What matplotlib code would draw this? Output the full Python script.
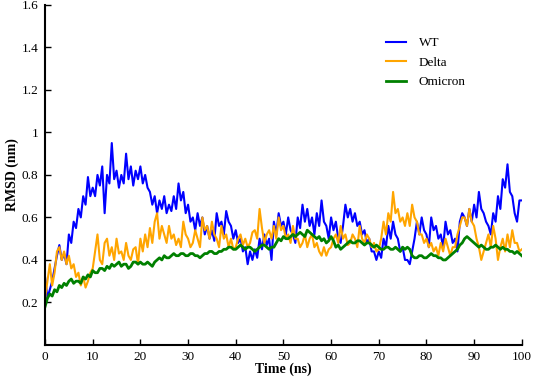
import numpy as np
import matplotlib
matplotlib.use("Agg")
import matplotlib.pyplot as plt

# time axis (ns), 0.5 ns steps
time_ns = np.arange(0, 100.01, 0.5)

wt = [
    0.32, 0.22, 0.26, 0.30, 0.36, 0.42, 0.47, 0.40, 0.43, 0.38,
    0.52, 0.48, 0.58, 0.55, 0.64, 0.60, 0.70, 0.66, 0.79, 0.70,
    0.74, 0.70, 0.80, 0.75, 0.84, 0.62, 0.80, 0.76, 0.95, 0.78,
    0.82, 0.74, 0.80, 0.76, 0.90, 0.78, 0.84, 0.75, 0.82, 0.78,
    0.84, 0.76, 0.80, 0.74, 0.72, 0.66, 0.70, 0.62, 0.68, 0.64,
    0.70, 0.62, 0.66, 0.63, 0.70, 0.64, 0.76, 0.68, 0.72, 0.62,
    0.66, 0.58, 0.60, 0.54, 0.62, 0.56, 0.60, 0.52, 0.56, 0.50,
    0.54, 0.49, 0.62, 0.56, 0.58, 0.52, 0.63, 0.58, 0.56, 0.50,
    0.54, 0.48, 0.50, 0.44, 0.46, 0.38, 0.44, 0.40, 0.45, 0.41,
    0.50, 0.45, 0.52, 0.47, 0.50, 0.40, 0.58, 0.52, 0.62, 0.56,
    0.58, 0.52, 0.60, 0.54, 0.52, 0.48, 0.60, 0.55, 0.66, 0.58,
    0.64, 0.56, 0.60, 0.52, 0.62, 0.56, 0.68, 0.58, 0.56, 0.50,
    0.60, 0.54, 0.58, 0.50, 0.48, 0.56, 0.66, 0.60, 0.64, 0.58,
    0.62, 0.56, 0.58, 0.52, 0.54, 0.48, 0.50, 0.44, 0.44, 0.40,
    0.44, 0.41, 0.50, 0.46, 0.56, 0.50, 0.58, 0.52, 0.50, 0.44,
    0.46, 0.40, 0.40, 0.38, 0.44, 0.50, 0.58, 0.52, 0.60, 0.54,
    0.52, 0.46, 0.60, 0.54, 0.56, 0.50, 0.52, 0.46, 0.58, 0.52,
    0.54, 0.48, 0.50, 0.44, 0.58, 0.62, 0.60, 0.56, 0.64, 0.58,
    0.66, 0.60, 0.72, 0.64, 0.62, 0.58, 0.56, 0.52, 0.62, 0.58,
    0.70, 0.64, 0.78, 0.74, 0.85, 0.72, 0.70, 0.62, 0.58, 0.68,
    0.68,
]

delta = [
    0.22, 0.30, 0.38, 0.28, 0.34, 0.44, 0.46, 0.40, 0.44, 0.38,
    0.42, 0.36, 0.38, 0.32, 0.34, 0.28, 0.32, 0.27, 0.30, 0.34,
    0.36, 0.44, 0.52, 0.40, 0.38, 0.48, 0.50, 0.42, 0.46, 0.40,
    0.50, 0.43, 0.44, 0.40, 0.48, 0.42, 0.40, 0.45, 0.46, 0.38,
    0.50, 0.44, 0.52, 0.46, 0.55, 0.48, 0.58, 0.62, 0.50, 0.56,
    0.52, 0.48, 0.56, 0.50, 0.52, 0.47, 0.50, 0.46, 0.58, 0.52,
    0.50, 0.46, 0.48, 0.54, 0.50, 0.46, 0.60, 0.54, 0.56, 0.50,
    0.58, 0.52, 0.50, 0.46, 0.56, 0.50, 0.52, 0.46, 0.50, 0.45,
    0.46, 0.50, 0.52, 0.47, 0.50, 0.46, 0.48, 0.53, 0.54, 0.50,
    0.64, 0.55, 0.48, 0.52, 0.54, 0.50, 0.56, 0.50, 0.60, 0.54,
    0.56, 0.50, 0.52, 0.48, 0.56, 0.50, 0.50, 0.46, 0.48, 0.52,
    0.46, 0.50, 0.52, 0.46, 0.48, 0.44, 0.42, 0.46, 0.42, 0.45,
    0.46, 0.50, 0.52, 0.48, 0.56, 0.50, 0.52, 0.47, 0.48, 0.52,
    0.50, 0.46, 0.56, 0.50, 0.48, 0.52, 0.50, 0.46, 0.48, 0.44,
    0.45, 0.50, 0.58, 0.52, 0.62, 0.58, 0.72, 0.62, 0.64, 0.58,
    0.60, 0.56, 0.62, 0.56, 0.66, 0.60, 0.58, 0.52, 0.52, 0.48,
    0.50, 0.46, 0.48, 0.44, 0.46, 0.42, 0.48, 0.44, 0.50, 0.46,
    0.42, 0.46, 0.46, 0.52, 0.56, 0.60, 0.60, 0.56, 0.64, 0.58,
    0.56, 0.50, 0.46, 0.40, 0.44, 0.48, 0.52, 0.46, 0.56, 0.50,
    0.40, 0.46, 0.50, 0.44, 0.52, 0.46, 0.54, 0.48, 0.48, 0.44,
    0.45,
]

omicron = [
    0.18, 0.22, 0.24, 0.23, 0.26, 0.25, 0.28, 0.27, 0.29, 0.28,
    0.30, 0.31, 0.29, 0.30, 0.30, 0.29, 0.32, 0.31, 0.33, 0.32,
    0.35, 0.34, 0.34, 0.36, 0.36, 0.35, 0.37, 0.36, 0.38, 0.37,
    0.38, 0.39, 0.37, 0.38, 0.38, 0.36, 0.37, 0.39, 0.39, 0.38,
    0.39, 0.38, 0.38, 0.39, 0.38, 0.37, 0.39, 0.40, 0.41, 0.40,
    0.42, 0.41, 0.41, 0.42, 0.43, 0.42, 0.42, 0.43, 0.43, 0.42,
    0.42, 0.43, 0.43, 0.42, 0.42, 0.41, 0.42, 0.43, 0.43, 0.44,
    0.44, 0.43, 0.43, 0.44, 0.44, 0.45, 0.45, 0.46, 0.46, 0.45,
    0.45, 0.46, 0.47, 0.46, 0.45, 0.46, 0.46, 0.45, 0.44, 0.45,
    0.46, 0.47, 0.47, 0.46, 0.45, 0.46, 0.46, 0.48, 0.50, 0.49,
    0.51, 0.50, 0.50, 0.51, 0.52, 0.51, 0.52, 0.53, 0.52, 0.51,
    0.54, 0.53, 0.52, 0.51, 0.50, 0.51, 0.49, 0.50, 0.48, 0.49,
    0.51, 0.49, 0.46, 0.47, 0.45, 0.46, 0.47, 0.48, 0.49, 0.48,
    0.48, 0.49, 0.49, 0.48, 0.47, 0.48, 0.48, 0.47, 0.46, 0.47,
    0.46, 0.45, 0.45, 0.46, 0.46, 0.45, 0.45, 0.46, 0.45, 0.44,
    0.46, 0.45, 0.46, 0.45, 0.42, 0.41, 0.41, 0.42, 0.42, 0.41,
    0.41, 0.42, 0.43, 0.42, 0.42, 0.41, 0.41, 0.40, 0.40, 0.41,
    0.42, 0.43, 0.44, 0.45, 0.47, 0.48, 0.50, 0.51, 0.50, 0.49,
    0.48, 0.47, 0.46, 0.47, 0.46, 0.45, 0.45, 0.46, 0.46, 0.47,
    0.46, 0.45, 0.46, 0.45, 0.45, 0.44, 0.44, 0.43, 0.44, 0.43,
    0.42,
]

series_names = ["WT", "Delta", "Omicron"]
series_colors = ["#0000FF", "#FFA500", "#008000"]

x_ticks = [0, 10, 20, 30, 40, 50, 60, 70, 80, 90, 100]
y_ticks = [0.2, 0.4, 0.6, 0.8, 1.0, 1.2, 1.4, 1.6]
y_tick_labels = ["0.2", "0.4", "0.6", "0.8", "1", "1.2", "1.4", "1.6"]

plt.rcParams['font.family'] = ['Liberation Serif', 'DejaVu Serif']

fig = plt.figure(figsize=(5.33, 3.77), dpi=100)
ax = fig.add_axes([0.0845, 0.085, 0.8945, 0.902])

for vals, name, col, lw in zip([wt, delta, omicron], series_names, series_colors, [1.5, 1.5, 2.0]):
    ax.plot(time_ns, vals, color=col, lw=lw, label=name)

ax.set_xlim(0, 100)
ax.set_ylim(0, 1.6)
ax.set_xticks(x_ticks)
ax.set_xticklabels([str(t) for t in x_ticks])
ax.set_yticks(y_ticks)
ax.set_yticklabels(y_tick_labels)
ax.tick_params(direction='in', length=4, width=1, labelsize=9.5)
ax.tick_params(axis='x', pad=4)
ax.tick_params(axis='y', pad=5)
for s in ['top', 'right']:
    ax.spines[s].set_visible(False)
for s in ['left', 'bottom']:
    ax.spines[s].set_linewidth(1.5)

ax.set_xlabel("Time (ns)", fontweight='bold', fontsize=10, labelpad=0)
ax.set_ylabel("RMSD (nm)", fontweight='bold', fontsize=10, labelpad=2)

leg = ax.legend(loc='upper left', bbox_to_anchor=(0.69, 0.94), frameon=False,
                fontsize=9.5, handlelength=1.5, labelspacing=0.55, handletextpad=1.0)

fig.savefig("out.png", dpi=100)
